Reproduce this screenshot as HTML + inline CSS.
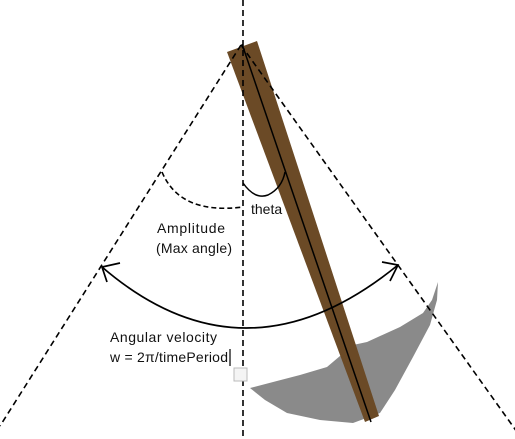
<!DOCTYPE html>
<html><head><meta charset="utf-8"><style>
html,body{margin:0;padding:0;background:#fff;}
svg{display:block;}
text{font-family:"Liberation Sans",sans-serif;font-size:14px;fill:#111;}
</style></head><body>
<svg width="515" height="439" viewBox="0 0 515 439">
<polygon points="250,388 300,375 327,367 353,345 367,342 400,327 423,313 432,300 438,282 437,300 430,325 413,357 395,390 380,413 353,423 320,420 287,413 265,400" fill="#8a8a8a"/>
<polygon points="227,52 257,41 379,416 365,422" fill="#6b4a26"/>
<line x1="243" y1="0" x2="243" y2="439" stroke="#000" stroke-width="1.6" stroke-dasharray="6,4"/>
<line x1="241" y1="45" x2="0" y2="426" stroke="#000" stroke-width="1.6" stroke-dasharray="6,4"/>
<line x1="241" y1="45" x2="522" y2="439" stroke="#000" stroke-width="1.6" stroke-dasharray="6,4"/>
<line x1="242" y1="44" x2="371" y2="422" stroke="#000" stroke-width="1.5"/>
<path d="M243,183 Q255,200 268,195 Q282,188 285,172" fill="none" stroke="#000" stroke-width="1.5"/>
<path d="M162,172 Q180,215 243,207" fill="none" stroke="#000" stroke-width="1.6" stroke-dasharray="5,3"/>
<path d="M102,267 Q245,390 398,265" fill="none" stroke="#000" stroke-width="1.7"/>
<path d="M120,263 L102,267 L107,282" fill="none" stroke="#000" stroke-width="1.7"/>
<path d="M382,262 L398,265 L390,281" fill="none" stroke="#000" stroke-width="1.7"/>
<text x="251" y="214">theta</text>
<text x="157" y="233" textLength="68">Amplitude</text>
<text x="156" y="253" textLength="76">(Max angle)</text>
<text x="110" y="342" textLength="107">Angular velocity</text>
<text x="110" y="362" textLength="118">w = 2π/timePeriod</text>
<line x1="230" y1="349" x2="230" y2="366" stroke="#000" stroke-width="1.2"/>
<rect x="234" y="368" width="13" height="13" fill="#f4f4f4" stroke="#bbb" stroke-width="1"/>
</svg>
</body></html>
